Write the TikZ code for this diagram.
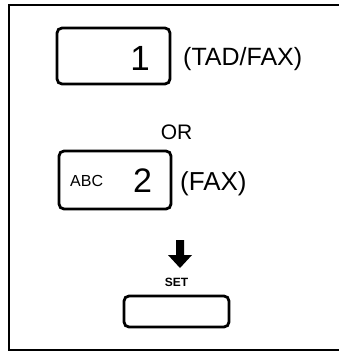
\documentclass[tikz,border=0pt]{standalone}
\usepackage{fontspec}
\setmainfont{Liberation Sans}
\begin{document}
\begin{tikzpicture}[x=1pt,y=-1pt,
  key/.style={draw=black,line width=2.8pt,rounded corners=5pt,inner sep=0pt},
  lbl/.style={inner sep=0pt,text=black}]
\useasboundingbox (0,0) rectangle (339,351);
% frame
\draw[line width=2pt] (339,5) -- (8.5,5) -- (8.5,349.5) -- (339,349.5);
% key 1
\node[key,minimum width=113pt,minimum height=56pt] (k1) at (113.5,56) {};
\node[lbl,anchor=base] (n1) at (140,70) {\fontsize{35}{35}\selectfont 1};
\node[lbl,anchor=base west] (t1) at (183,65.5) {\fontsize{25}{25}\selectfont (TAD/FAX)};
% OR
\node[lbl,anchor=base] (or) at (176.5,139) {\fontsize{21}{21}\selectfont OR};
% key 2
\node[key,minimum width=112pt,minimum height=58pt] (k2) at (115,180) {};
\node[lbl,anchor=base west] (abc) at (70,186.5) {\fontsize{16}{16}\selectfont ABC};
\node[lbl,anchor=base] (n2) at (142.5,192.5) {\fontsize{34}{34}\selectfont 2};
\node[lbl,anchor=base west] (t2) at (180,190.5) {\fontsize{26}{26}\selectfont (FAX)};
% arrow and SET
\fill[black] (176,240) -- (184,240) -- (184,255) -- (192,255) -- (180,268) -- (168,255) -- (176,255) -- cycle;
\node[lbl,anchor=base] (set) at (176.5,286) {\fontsize{12}{12}\selectfont\bfseries SET};
\node[key,minimum width=105pt,minimum height=31pt] (k3) at (176.5,311.5) {};
\end{tikzpicture}
\end{document}
